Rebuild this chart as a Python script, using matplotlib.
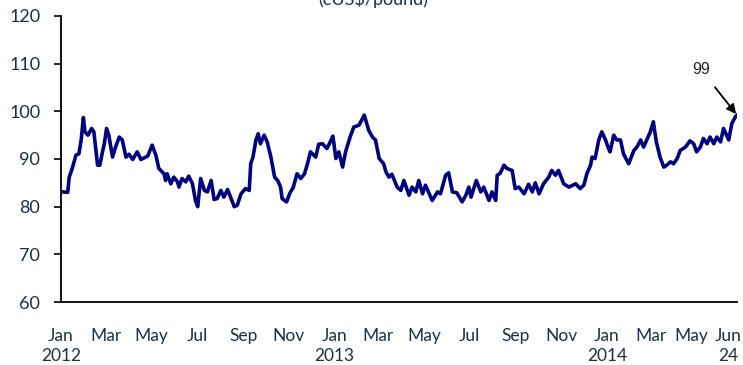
import pandas as pd
import matplotlib
matplotlib.use("Agg")
import matplotlib.pyplot as plt

# price series: days since 2012-01-03, cUS$/pound
start_date = "2012-01-03"
day_offset = [
    0, 7, 9, 13, 18, 22, 25, 28, 30, 34, 39, 42, 47, 50, 53, 56, 59, 62, 67, 71,
    76, 80, 85, 89, 94, 100, 105, 114, 120, 125, 129, 136, 138, 140, 145, 149, 154, 156, 160, 165,
    169, 174, 178, 181, 185, 190, 194, 199, 203, 207, 212, 216, 221, 225, 230, 234, 239, 245, 250, 252,
    255, 259, 262, 265, 270, 274, 279, 284, 288, 292, 294, 300, 304, 309, 314, 319, 324, 328, 332, 339,
    343, 348, 354, 357, 362, 366, 370, 375, 379, 385, 390, 397, 404, 410, 415, 419, 424, 430, 433, 437,
    441, 448, 453, 457, 464, 468, 473, 477, 482, 486, 495, 502, 506, 513, 517, 522, 528, 535, 540, 544,
    547, 554, 560, 564, 571, 575, 580, 582, 586, 591, 595, 602, 606, 611, 618, 624, 629, 633, 638, 644,
    651, 655, 660, 664, 671, 678, 687, 693, 698, 702, 707, 709, 713, 718, 722, 727, 731, 733, 738, 742,
    747, 751, 758, 765, 769, 774, 778, 783, 787, 791, 795, 800, 805, 809, 814, 818, 823, 827, 834, 840,
    845, 849, 854, 858, 863, 867, 872, 876, 881, 885, 892, 896, 901, 903,
]
price = [
    83.1, 83.0, 86.2, 88.0, 90.8, 91.1, 94.0, 98.7, 95.7, 95.0, 96.4, 95.7, 88.7, 88.7, 91.1, 93.2, 96.4, 95.0, 90.4, 92.5,
    94.6, 94.0, 90.4, 91.0, 89.9, 91.5, 89.9, 90.6, 92.9, 90.8, 88.0, 86.9, 85.5, 86.9, 84.8, 86.2, 85.2, 84.1, 85.9, 85.2,
    86.4, 84.8, 81.3, 80.0, 85.9, 83.4, 83.1, 85.5, 81.5, 81.7, 83.4, 82.0, 83.6, 82.0, 80.0, 80.3, 82.7, 83.8, 83.4, 89.0,
    90.4, 94.0, 95.3, 93.2, 95.0, 93.6, 90.4, 86.2, 85.5, 84.1, 81.7, 81.0, 82.7, 84.1, 86.9, 85.9, 86.9, 89.0, 91.5, 90.4,
    93.1, 93.2, 92.2, 93.1, 94.8, 90.1, 91.5, 88.3, 91.5, 94.6, 96.7, 97.1, 99.2, 96.0, 94.6, 94.0, 90.1, 89.0, 87.3, 86.2,
    86.8, 84.1, 83.4, 85.5, 82.4, 84.1, 83.1, 85.5, 82.7, 84.5, 81.3, 83.1, 82.7, 86.6, 87.1, 83.1, 82.9, 81.0, 82.4, 84.1,
    82.0, 85.5, 83.1, 84.1, 81.3, 83.1, 81.3, 86.6, 87.0, 88.7, 88.0, 87.6, 83.8, 84.1, 82.7, 84.7, 83.1, 85.0, 82.7, 84.8,
    86.2, 87.6, 86.6, 87.6, 84.8, 84.1, 84.8, 83.8, 84.5, 86.9, 88.7, 90.4, 90.1, 94.0, 95.7, 94.0, 92.2, 91.5, 95.0, 94.0,
    94.0, 91.1, 89.0, 91.8, 92.5, 94.0, 92.5, 94.3, 95.7, 97.8, 93.6, 90.4, 88.3, 88.7, 89.4, 89.0, 90.1, 91.8, 92.5, 93.8,
    93.2, 91.5, 92.5, 94.3, 93.2, 94.6, 93.2, 94.6, 93.6, 96.4, 94.0, 97.4, 98.9, 99.2,
]

tick_dates = ["2012-01-01", "2012-03-01", "2012-05-01", "2012-07-01", "2012-09-01", "2012-11-01",
              "2013-01-01", "2013-03-01", "2013-05-01", "2013-07-01", "2013-09-01", "2013-11-01",
              "2014-01-01", "2014-03-01", "2014-05-01", "2014-06-24"]
tick_labels = ["Jan\n2012", "Mar", "May", "Jul", "Sep", "Nov",
               "Jan\n2013", "Mar", "May", "Jul", "Sep", "Nov",
               "Jan\n2014", "Mar", "May", "Jun\n24"]
last_label = "99"

dates = pd.Timestamp(start_date) + pd.to_timedelta(day_offset, unit="D")
tick_pos = pd.to_datetime(tick_dates)
text_col = "#1f2f45"
lab_kw = dict(family="Lato", fontsize=12.5, color=text_col, linespacing=1.3)

fig = plt.figure(figsize=(7.43, 3.65), dpi=100)
ax = fig.add_axes([0.0821, 0.1726, 0.9098, 0.7836])

ax.plot(dates, price, color="#000080", lw=2.6, solid_joinstyle="round")

ax.set_xlim(dates[0], dates[-1])
ax.set_ylim(60, 120)
ax.set_yticks(range(60, 121, 10))

# the last two labels are crowded at the right edge, so nudge them by hand
ax.set_xticks(tick_pos)
ax.set_xticklabels(tick_labels[:-2] + ["", ""], **lab_kw)
for pos, lab, dx in zip(tick_pos[-2:], tick_labels[-2:], [-4, -6.5]):
    ax.annotate(lab, xy=(pos, 0), xycoords=("data", "axes fraction"),
                xytext=(dx, -19), textcoords="offset points",
                ha="center", va="top", annotation_clip=False, **lab_kw)
ax.tick_params(axis="x", length=0, pad=19)
ax.tick_params(axis="y", length=5, width=1.2, pad=10, labelsize=13, labelcolor=text_col)
for lab in ax.get_yticklabels():
    lab.set_family("Lato")

for s in ["top", "right"]:
    ax.spines[s].set_visible(False)
ax.spines["left"].set_linewidth(1.3)
ax.spines["bottom"].set_linewidth(1.3)

ax.annotate(last_label, xy=(dates[-1], price[-1]), xytext=(-26, 33), textcoords="offset points",
            ha="center", va="center", fontsize=11.5, family="Liberation Sans", color="#222222",
            arrowprops=dict(arrowstyle="-|>", color="black", lw=1.3, mutation_scale=14,
                            shrinkA=7, shrinkB=1))

fig.text(0.502, 0.985, "(cUS$/pound)", ha="center", va="baseline", family="Lato",
         fontsize=13, color=text_col)

fig.savefig("out.png", dpi=100)
